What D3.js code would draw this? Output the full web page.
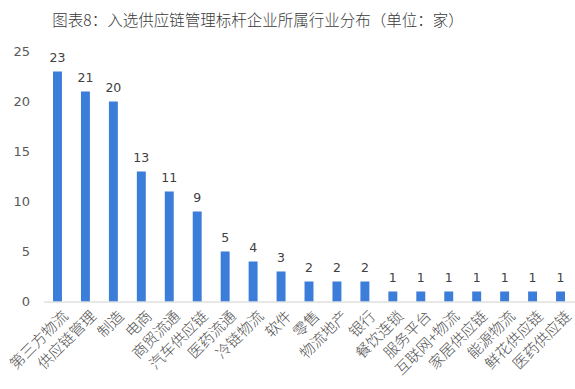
<!DOCTYPE html>
<html><head><meta charset="utf-8">
<script src="https://cdn.jsdelivr.net/npm/d3@7"></script>
<style>
html,body{margin:0;padding:0;background:#fff;}
svg{display:block;}
</style></head>
<body>
<script>
const title = "图表8：入选供应链管理标杆企业所属行业分布（单位：家）";
const categories = ["第三方物流","供应链管理","制造","电商","商贸流通","汽车供应链","医药流通","冷链物流","软件","零售","物流地产","银行","餐饮连锁","服务平台","互联网+物流","家居供应链","能源物流","鲜花供应链","医药供应链"];
const values = [23,21,20,13,11,9,5,4,3,2,2,2,1,1,1,1,1,1,1];
const yTicks = [0,5,10,15,20,25];

const W = 575, H = 389;
const font = "'Noto Sans CJK SC', 'Microsoft YaHei', sans-serif";
const numFont = "'DejaVu Sans', Verdana, sans-serif";
const svg = d3.select("body").append("svg").attr("width", W).attr("height", H);

const x = d3.scaleBand().domain(categories).range([43.5, 574.5]).paddingInner(0.68).paddingOuter(0.34);
const y = d3.scaleLinear().domain([0, 25]).range([301.5, 51.5]);

svg.append("text").attr("x", 258).attr("y", 26).attr("text-anchor", "middle")
  .attr("font-family", font).attr("font-size", 15.5).attr("font-weight", 300).attr("fill", "#3a3a3a").text(title);

// y axis labels
const yAxis = d3.axisLeft(y).tickValues(yTicks).tickSize(0).tickPadding(0);
const gy = svg.append("g").attr("transform", "translate(30,0)").call(yAxis);
gy.select(".domain").remove();
gy.selectAll("text").attr("font-family", numFont).attr("font-size", 13).attr("fill", "#595959");

// bars
svg.selectAll("rect.bar").data(values).enter().append("rect")
  .attr("x", (d,i) => x(categories[i]))
  .attr("width", x.bandwidth())
  .attr("y", d => y(d))
  .attr("height", d => y(0) - y(d))
  .attr("fill", "#3b7dd8");

// value labels
svg.selectAll("text.val").data(values).enter().append("text")
  .attr("x", (d,i) => x(categories[i]) + x.bandwidth()/2)
  .attr("y", d => y(d) - 10)
  .attr("text-anchor", "middle")
  .attr("font-family", numFont).attr("font-size", 12.5).attr("fill", "#404040")
  .text(d => d);

// x axis
const xAxis = d3.axisBottom(x).tickSize(0).tickPadding(0);
const gx = svg.append("g").attr("transform", `translate(0,${y(0)})`).call(xAxis);
gx.select(".domain").attr("stroke", "#d0d0d0").attr("stroke-width", 1);
gx.selectAll("text")
  .attr("font-family", font).attr("font-size", 15).attr("font-weight", 300).attr("fill", "#505050")
  .attr("text-anchor", "end")
  .attr("dy", null).attr("y", null)
  .attr("transform", "translate(7,11) rotate(-45)")
  .attr("dominant-baseline", "central");
</script>
</body></html>
